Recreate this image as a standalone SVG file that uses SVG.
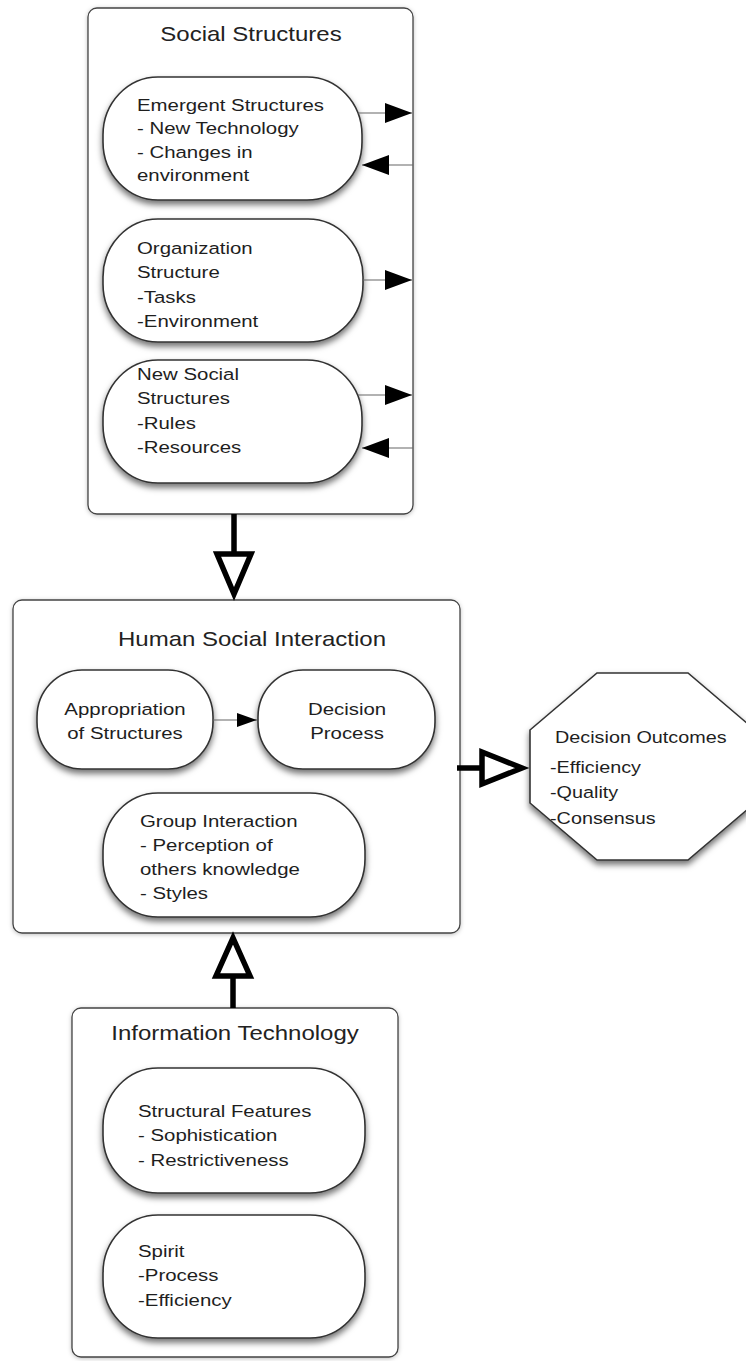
<svg xmlns="http://www.w3.org/2000/svg" width="746" height="1361" viewBox="0 0 746 1361">
<defs>
  <filter id="nodeShadow" x="-20%" y="-20%" width="140%" height="150%">
    <feDropShadow dx="0" dy="4" stdDeviation="3" flood-color="#000" flood-opacity="0.55"/>
  </filter>
  <filter id="boxShadow" x="-10%" y="-10%" width="120%" height="120%">
    <feDropShadow dx="0" dy="1" stdDeviation="2" flood-color="#000" flood-opacity="0.25"/>
  </filter>
  <marker id="solidHead" viewBox="0 0 27 20" refX="27" refY="10" markerWidth="27" markerHeight="20" markerUnits="userSpaceOnUse" orient="auto">
    <path d="M0,0 L27,10 L0,20 Z" fill="#000"/>
  </marker>
  <marker id="smallHead" viewBox="0 0 20 14" refX="20" refY="7" markerWidth="20" markerHeight="14" markerUnits="userSpaceOnUse" orient="auto">
    <path d="M0,0 L20,7 L0,14 Z" fill="#000"/>
  </marker>
</defs>
<style>
  .container { fill: #ffffff; stroke: #444; stroke-width: 1.3; filter: url(#boxShadow); }
  .node { fill: #ffffff; stroke: #333; stroke-width: 1.6; filter: url(#nodeShadow); }
  .title { font-family: "Liberation Sans", Arial, Helvetica, sans-serif; font-size: 20px; fill: #222; text-anchor: middle; }
  .label { font-family: "Liberation Sans", Arial, Helvetica, sans-serif; font-size: 17px; fill: #1e1e1e; }
  .center { text-anchor: middle; }
  .oct { font-family: "Liberation Sans", Arial, Helvetica, sans-serif; font-size: 16.5px; fill: #1e1e1e; }
  .thin { stroke: #666; stroke-width: 1.2; fill: none; }
  .thick { stroke: #000; stroke-width: 5.5; fill: none; }
  .openHead { fill: #fff; stroke: #000; stroke-width: 5.5; stroke-linejoin: miter; }
</style>
<rect width="746" height="1361" fill="#ffffff"/>

<g id="social-structures">
  <rect class="container" x="88" y="8" width="325" height="506" rx="9" ry="9"/>
  <text class="title" transform="translate(251 41) scale(1.2 1)">Social Structures</text>
</g>

<g id="emergent-structures">
  <rect class="node" x="103" y="77" width="259" height="123" rx="55" ry="58"/>
  <text class="label" transform="translate(137 111) scale(1.2 1)"><tspan x="0" y="0">Emergent Structures</tspan><tspan x="0" y="23.4">- New Technology</tspan><tspan x="0" y="46.8">- Changes in</tspan><tspan x="0" y="70.2">environment</tspan></text>
</g>

<g id="organization-structure">
  <rect class="node" x="103" y="219" width="260" height="123" rx="55" ry="58"/>
  <text class="label" transform="translate(137 254) scale(1.2 1)"><tspan x="0" y="0">Organization</tspan><tspan x="0" y="24.3">Structure</tspan><tspan x="0" y="48.6">-Tasks</tspan><tspan x="0" y="72.9">-Environment</tspan></text>
</g>

<g id="new-social-structures">
  <rect class="node" x="103" y="360" width="259" height="123" rx="55" ry="58"/>
  <text class="label" transform="translate(137 380) scale(1.2 1)"><tspan x="0" y="0">New Social</tspan><tspan x="0" y="24.3">Structures</tspan><tspan x="0" y="48.6">-Rules</tspan><tspan x="0" y="72.9">-Resources</tspan></text>
</g>

<g id="human-social-interaction">
  <rect class="container" x="13" y="600" width="447" height="333" rx="9" ry="9"/>
  <text class="title" transform="translate(252 646) scale(1.2 1)">Human Social Interaction</text>
</g>

<g id="appropriation-of-structures">
  <rect class="node" x="37" y="670" width="176" height="99" rx="45" ry="47"/>
  <text class="label center" transform="translate(125 715) scale(1.2 1)"><tspan x="0" y="0">Appropriation</tspan><tspan x="0" y="24.5">of Structures</tspan></text>
</g>

<g id="decision-process">
  <rect class="node" x="258" y="670" width="177" height="99" rx="45" ry="47"/>
  <text class="label center" transform="translate(347 715) scale(1.2 1)"><tspan x="0" y="0">Decision</tspan><tspan x="0" y="24.5">Process</tspan></text>
</g>

<g id="group-interaction">
  <rect class="node" x="103" y="793" width="262" height="124" rx="55" ry="58"/>
  <text class="label" transform="translate(140 827) scale(1.2 1)"><tspan x="0" y="0">Group Interaction</tspan><tspan x="0" y="24">- Perception of</tspan><tspan x="0" y="48">others knowledge</tspan><tspan x="0" y="72">- Styles</tspan></text>
</g>

<g id="decision-outcomes">
  <polygon class="node" points="597,673 688,673 755,730 755,803 688,860 597,860 530,803 530,730"/>
  <text class="oct" transform="translate(555 743) scale(1.2 1)">Decision Outcomes</text>
  <text class="oct" transform="translate(550 773) scale(1.2 1)"><tspan x="0" y="0">-Efficiency</tspan><tspan x="0" y="25.5">-Quality</tspan><tspan x="0" y="51">-Consensus</tspan></text>
</g>

<g id="information-technology">
  <rect class="container" x="72" y="1008" width="326" height="349" rx="9" ry="9"/>
  <text class="title" transform="translate(235 1040) scale(1.2 1)">Information Technology</text>
</g>

<g id="structural-features">
  <rect class="node" x="103" y="1068" width="262" height="125" rx="55" ry="58"/>
  <text class="label" transform="translate(138 1117) scale(1.2 1)"><tspan x="0" y="0">Structural Features</tspan><tspan x="0" y="24.5">- Sophistication</tspan><tspan x="0" y="49">- Restrictiveness</tspan></text>
</g>

<g id="spirit">
  <rect class="node" x="103" y="1215" width="262" height="123" rx="55" ry="58"/>
  <text class="label" transform="translate(138 1257) scale(1.2 1)"><tspan x="0" y="0">Spirit</tspan><tspan x="0" y="24.5">-Process</tspan><tspan x="0" y="49">-Efficiency</tspan></text>
</g>

<g id="connectors">
  <line class="thin" x1="358" y1="113" x2="412" y2="113" marker-end="url(#solidHead)"/>
  <line class="thin" x1="413" y1="165" x2="362" y2="165" marker-end="url(#solidHead)"/>
  <line class="thin" stroke="#000" x1="363" y1="280" x2="412" y2="280" marker-end="url(#solidHead)"/>
  <line class="thin" x1="358" y1="395" x2="412" y2="395" marker-end="url(#solidHead)"/>
  <line class="thin" x1="413" y1="448" x2="362" y2="448" marker-end="url(#solidHead)"/>
  <line class="thin" stroke="#000" x1="213" y1="720" x2="257" y2="720" marker-end="url(#smallHead)"/>

  <line class="thick" x1="234" y1="514" x2="234" y2="554"/>
  <polygon class="openHead" points="217,554 251,554 234,594"/>

  <line class="thick" x1="457" y1="768" x2="482" y2="768"/>
  <polygon class="openHead" points="482,752 482,784 522,768"/>

  <line class="thick" x1="233" y1="1008" x2="233" y2="976"/>
  <polygon class="openHead" points="216,976 250,976 233,938"/>
</g>
</svg>
